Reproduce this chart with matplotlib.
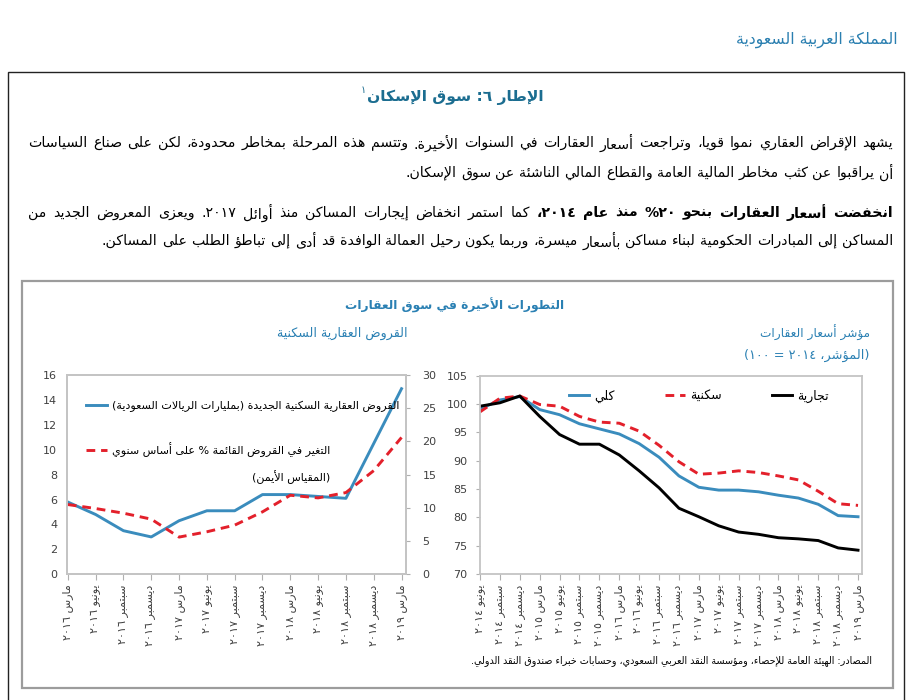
import re
import matplotlib
matplotlib.use("Agg")
import matplotlib.pyplot as plt
from matplotlib.patches import Rectangle

W, H = 910, 700
plt.rcParams['font.family'] = ['DejaVu Sans']

# ---- data -------------------------------------------------------------
loan_labels = ["مارس ٢٠١٦", "يونيو ٢٠١٦", "سبتمبر ٢٠١٦", "ديسمبر ٢٠١٦",
               "مارس ٢٠١٧", "يونيو ٢٠١٧", "سبتمبر ٢٠١٧", "ديسمبر ٢٠١٧",
               "مارس ٢٠١٨", "يونيو ٢٠١٨", "سبتمبر ٢٠١٨", "ديسمبر ٢٠١٨",
               "مارس ٢٠١٩"]
new_loans = [5.8, 4.8, 3.5, 3.0, 4.3, 5.1, 5.1, 6.4, 6.4, 6.25, 6.1, 10.5, 14.9]
loan_growth = [10.5, 9.9, 9.2, 8.3, 5.6, 6.4, 7.4, 9.4, 11.9, 11.5, 12.3, 15.6, 20.6]

price_labels = ["يونيو ٢٠١٤", "سبتمبر ٢٠١٤", "ديسمبر ٢٠١٤",
                "مارس ٢٠١٥", "يونيو ٢٠١٥", "سبتمبر ٢٠١٥", "ديسمبر ٢٠١٥",
                "مارس ٢٠١٦", "يونيو ٢٠١٦", "سبتمبر ٢٠١٦", "ديسمبر ٢٠١٦",
                "مارس ٢٠١٧", "يونيو ٢٠١٧", "سبتمبر ٢٠١٧", "ديسمبر ٢٠١٧",
                "مارس ٢٠١٨", "يونيو ٢٠١٨", "سبتمبر ٢٠١٨", "ديسمبر ٢٠١٨",
                "مارس ٢٠١٩"]
price_total = [99.1, 100.7, 101.3, 99.0, 98.1, 96.5, 95.6, 94.7, 93.0, 90.6,
               87.3, 85.3, 84.8, 84.8, 84.5, 83.9, 83.4, 82.3, 80.3, 80.1]
price_resid = [98.6, 101.0, 101.4, 99.9, 99.6, 97.8, 96.8, 96.6, 95.2, 92.7,
               89.8, 87.6, 87.8, 88.2, 87.9, 87.3, 86.6, 84.6, 82.4, 82.1]
price_comm = [99.6, 100.2, 101.4, 97.8, 94.6, 92.9, 92.9, 91.0, 88.2, 85.2,
              81.6, 80.1, 78.5, 77.4, 77.0, 76.4, 76.2, 75.9, 74.6, 74.2]

BLUE, RED, TEAL = '#3a8cbd', '#e3202b', '#1f78a6'

# ---- minimal arabic shaping + rtl reordering ------------------------
DUAL = {'ئ': 0xFE89, 'ب': 0xFE8F, 'ت': 0xFE95, 'ث': 0xFE99, 'ج': 0xFE9D,
        'ح': 0xFEA1, 'خ': 0xFEA5, 'س': 0xFEB1, 'ش': 0xFEB5, 'ص': 0xFEB9,
        'ض': 0xFEBD, 'ط': 0xFEC1, 'ظ': 0xFEC5, 'ع': 0xFEC9, 'غ': 0xFECD,
        'ف': 0xFED1, 'ق': 0xFED5, 'ك': 0xFED9, 'ل': 0xFEDD, 'م': 0xFEE1,
        'ن': 0xFEE5, 'ه': 0xFEE9, 'ي': 0xFEF1}
RIGHT = {'آ': 0xFE81, 'أ': 0xFE83, 'ؤ': 0xFE85, 'إ': 0xFE87, 'ا': 0xFE8D,
         'ة': 0xFE93, 'د': 0xFEA9, 'ذ': 0xFEAB, 'ر': 0xFEAD, 'ز': 0xFEAF,
         'و': 0xFEED, 'ى': 0xFEEF}
LAM_ALEF = {'آ': 0xFEF5, 'أ': 0xFEF7, 'إ': 0xFEF9, 'ا': 0xFEFB}
MIRROR = {'(': ')', ')': '('}


def shape(s):
    s = ''.join(c for c in s if not '\u064b' <= c <= '\u0652')
    units, i = [], 0
    while i < len(s):
        if s[i] == 'ل' and i + 1 < len(s) and s[i + 1] in LAM_ALEF:
            units.append(('LA', s[i + 1])); i += 2
        else:
            units.append((s[i], None)); i += 1

    def jt(u):
        if u is None:
            return None
        if u[0] == 'LA' or u[0] in RIGHT:
            return 'R'
        return 'D' if u[0] in DUAL else None

    out = []
    for k, u in enumerate(units):
        t = jt(u)
        prev = units[k - 1] if k > 0 else None
        nxt = units[k + 1] if k + 1 < len(units) else None
        jp = int(t is not None and jt(prev) == 'D')
        jn = t == 'D' and jt(nxt) is not None
        if u[0] == 'LA':
            out.append(chr(LAM_ALEF[u[1]] + jp))
        elif t == 'R':
            out.append(chr(RIGHT[u[0]] + jp))
        elif t == 'D':
            out.append(chr(DUAL[u[0]] + (3 if jp and jn else 2 if jn else 1 if jp else 0)))
        else:
            out.append(u[0])
    return ''.join(out)


def vis(s):
    runs = re.findall(r'[0-9\u0660-\u0669]+|[^0-9\u0660-\u0669]+', shape(s))
    out = []
    for r in reversed(runs):
        out.append(r if r[0].isdigit() else ''.join(MIRROR.get(c, c) for c in reversed(r)))
    return ''.join(out)


def fy(y):
    return 1 - y / H


fig = plt.figure(figsize=(W / 100, H / 100), dpi=100)
rend = fig.canvas.get_renderer()


def fit(t, width):
    w = t.get_window_extent(rend).width
    t.set_fontsize(t.get_fontsize() * width / w)
    return t


def para_line(words, y, fs, x_left=None, x_right=893):
    arts = [fig.text(0, fy(y), vis(w), fontsize=fs, ha='right', va='center',
                     fontweight='bold' if b else 'normal') for w, b in words]
    widths = [a.get_window_extent(rend).width for a in arts]
    gap = fs * 100 / 72 * 0.32 if x_left is None else (x_right - x_left - sum(widths)) / (len(arts) - 1)
    x = x_right
    for a, w in zip(arts, widths):
        a.set_x(x / W)
        x -= w + gap
    return sum(widths) + gap * (len(arts) - 1)


# ---- page frame & text ---------------------------------------------
fig.add_artist(Rectangle((8 / W, fy(720)), 896 / W, 648 / H, transform=fig.transFigure,
                         fill=False, ec='#222222', lw=1.0))
fig.add_artist(Rectangle((22 / W, fy(688)), 871 / W, 407 / H, transform=fig.transFigure,
                         fill=False, ec='#9c9c9c', lw=1.6))

fit(fig.text(898 / W, fy(40), vis("المملكة العربية السعودية"), ha='right', va='center',
             fontsize=11, color='#2a7fb0'), 161)
title = fit(fig.text(455 / W, fy(97), vis("الإطار ٦: سوق الإسكان"), ha='center', va='center',
                     fontsize=13, fontweight='bold', color='#1b6d90'), 176)
tb = title.get_window_extent(rend)
fig.text((tb.x0 - 1) / W, fy(90), "١", ha='right', va='center', fontsize=7, color='#1b6d90')

p1a = "يشهد الإقراض العقاري نموا قويا، وتراجعت أسعار العقارات في السنوات الأخيرة. وتتسم هذه المرحلة بمخاطر محدودة، لكن على صناع السياسات"
p1b = "أن يراقبوا عن كثب مخاطر المالية العامة والقطاع المالي الناشئة عن سوق الإسكان."
p2a_bold = "انخفضت أسعار العقارات بنحو ٢٠% منذ عام ٢٠١٤،"
p2a = "كما استمر انخفاض إيجارات المساكن منذ أوائل ٢٠١٧. ويُعزى المعروض الجديد من"
p2b = "المساكن إلى المبادرات الحكومية لبناء مساكن بأسعار ميسرة، وربما يكون رحيل العمالة الوافدة قد أدى إلى تباطؤ الطلب على المساكن."

words1 = [(w, False) for w in p1a.split()]
probe = para_line(words1, -100, 10)
fs_p = 10 * 840 / probe
for t in list(fig.texts)[-len(words1):]:
    t.remove()
para_line(words1, 143, fs_p, x_left=28)
para_line([(w, False) for w in p1b.split()], 173, fs_p)
para_line([(w, True) for w in p2a_bold.split()] + [(w, False) for w in p2a.split()], 213, fs_p, x_left=28)
para_line([(w, False) for w in p2b.split()], 241, fs_p)

fit(fig.text(455 / W, fy(305), vis("التطورات الأخيرة في سوق العقارات"), ha='center', va='center',
             fontsize=12, fontweight='bold', color='#2a80b3'), 220)
fit(fig.text(408 / W, fy(333), vis("القروض العقارية السكنية"), ha='right', va='center',
             fontsize=10, color='#2a80b3'), 130)
fit(fig.text(870 / W, fy(333), vis("مؤشر أسعار العقارات"), ha='right', va='center',
             fontsize=10, color='#2a80b3'), 110)
fit(fig.text(870 / W, fy(355), vis("(المؤشر، ٢٠١٤ = ١٠٠)"), ha='right', va='center',
             fontsize=9, color='#2a80b3'), 125)
fit(fig.text(872 / W, fy(661), vis("المصادر: الهيئة العامة للإحصاء، ومؤسسة النقد العربي السعودي، وحسابات خبراء صندوق النقد الدولي."),
             ha='right', va='center', fontsize=8.5), 404)


def style(ax):
    for s in ax.spines.values():
        s.set_color('#c4c4c4')
        s.set_linewidth(1.3)
    ax.tick_params(colors='#404040', labelsize=8, width=0.8)
    ax.tick_params(axis='both', color='#b0b0b0')


# ---- left chart: mortgage loans -------------------------------------
ax = fig.add_axes([67 / W, fy(574.3), 338.7 / W, 199.3 / H])
ax2 = ax.twinx()
x1 = list(range(len(loan_labels)))
h1, = ax.plot(x1, new_loans, color=BLUE, lw=2.1)
h2, = ax2.plot(x1, loan_growth, color=RED, lw=2.1, ls=(0, (3, 2)))
ax.set_xlim(-0.03, 12.15)
ax.set_ylim(0, 16)
ax.set_yticks(range(0, 17, 2))
ax2.set_ylim(0, 30)
ax2.set_yticks(range(0, 31, 5))
ax.set_xticks(x1)
ax.set_xticklabels([vis(l) for l in loan_labels], rotation=90, fontsize=7.8)
style(ax)
style(ax2)
ax.tick_params(axis='y', length=0, pad=7)
ax2.tick_params(axis='y', length=3, pad=9)
ax.tick_params(axis='x', length=4, direction='out')
leg = ax2.legend([h1, h2], [vis("القروض العقارية السكنية الجديدة (بمليارات الريالات السعودية)"),
                            vis("التغير في القروض القائمة % على أساس سنوي")],
                 loc='upper left', bbox_to_anchor=(0.055, 0.87), frameon=False, fontsize=8,
                 handlelength=1.9, handletextpad=0.5, labelspacing=2.7,
                 borderaxespad=0, borderpad=0)
fig.canvas.draw()
bb = leg.get_texts()[1].get_window_extent(rend)
fig.text(bb.x1 / W, ((bb.y0 + bb.y1) / 2 - 27) / H, vis("(المقياس الأيمن)"),
         ha='right', va='center', fontsize=8)

# ---- right chart: price index ---------------------------------------
bx = fig.add_axes([480 / W, fy(574), 382 / W, 198.4 / H])
x2 = list(range(len(price_labels)))
bx.plot(x2, price_total, color=BLUE, lw=2.1, label=vis("كلي"))
bx.plot(x2, price_resid, color=RED, lw=2.1, ls=(0, (3, 2)), label=vis("سكنية"))
bx.plot(x2, price_comm, color='black', lw=2.1, label=vis("تجارية"))
bx.set_xlim(0, 19.2)
bx.set_ylim(70, 105)
bx.set_yticks(range(70, 106, 5))
bx.set_xticks(x2)
bx.set_xticklabels([vis(l) for l in price_labels], rotation=90, fontsize=7.8)
style(bx)
bx.tick_params(axis='y', length=3, pad=6)
bx.tick_params(axis='x', length=4, direction='out')
bx.legend(ncol=3, loc='upper center', bbox_to_anchor=(0.573, 0.955), frameon=False, fontsize=9,
          handlelength=1.6, handletextpad=0.45, columnspacing=4.0, borderaxespad=0)

fig.savefig("out.png", dpi=100)
